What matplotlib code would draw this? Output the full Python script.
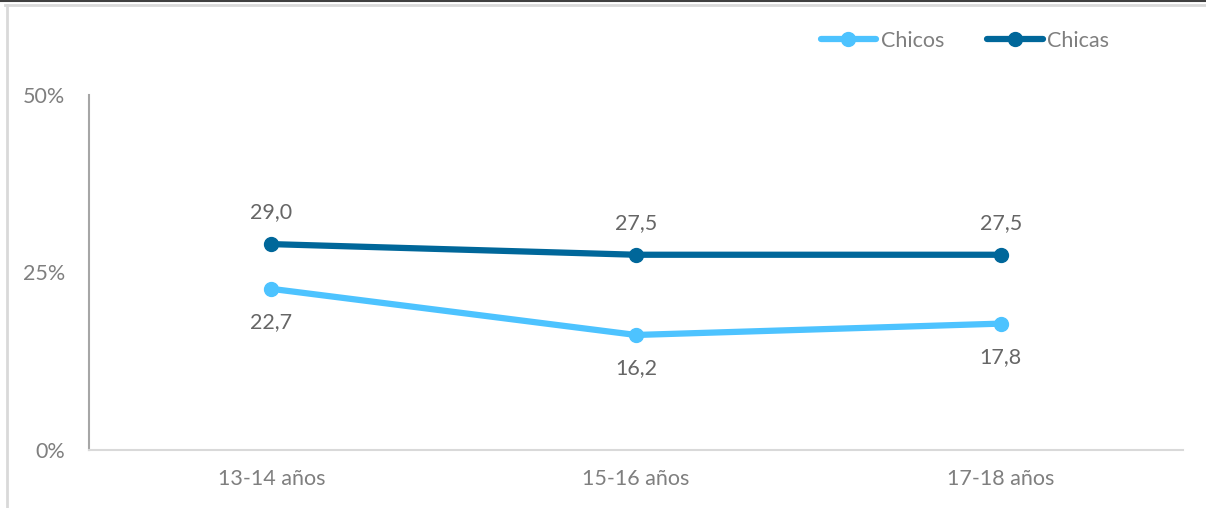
import matplotlib
matplotlib.use("Agg")
import matplotlib.pyplot as plt
from matplotlib.lines import Line2D
from matplotlib.ticker import FuncFormatter

categories = ["13-14 años", "15-16 años", "17-18 años"]
chicos = [22.7, 16.2, 17.8]
chicas = [29.0, 27.5, 27.5]
yticks = [0, 25, 50]

c_chicos = "#4DC3FF"
c_chicas = "#00679A"
grey = "#7F7F7F"
label_grey = "#666666"

plt.rcParams['font.family'] = ['Lato', 'DejaVu Sans']

fig = plt.figure(figsize=(12.06, 5.08), dpi=100)
W, H = 1206, 508
ax = fig.add_axes([89 / W, 1 - 450 / H, (1183 - 89) / W, (450 - 95) / H])

x = list(range(len(categories)))
ax.plot(x, chicos, color=c_chicos, lw=4.5, marker="o", ms=10, solid_capstyle="round", zorder=3)
ax.plot(x, chicas, color=c_chicas, lw=4.5, marker="o", ms=10, solid_capstyle="round", zorder=3)

fs = 15.5
for xi, v in zip(x, chicas):
    ax.annotate(f"{v:.1f}".replace(".", ","), (xi, v), xytext=(0, 23), textcoords="offset points",
                ha="center", va="center", fontsize=fs, color=label_grey)
for xi, v in zip(x, chicos):
    ax.annotate(f"{v:.1f}".replace(".", ","), (xi, v), xytext=(0, -24), textcoords="offset points",
                ha="center", va="center", fontsize=fs, color=label_grey)

ax.set_xlim(-0.5, 2.5)
ax.set_ylim(0, 50)
ax.set_yticks(yticks)
ax.yaxis.set_major_formatter(FuncFormatter(lambda v, p: f"{int(v)}%"))
ax.set_xticks(x)
ax.set_xticklabels(categories)
ax.tick_params(axis="both", length=0, labelsize=fs, labelcolor=grey)
ax.tick_params(axis="y", pad=17)
ax.tick_params(axis="x", pad=14)
for s in ["top", "right"]:
    ax.spines[s].set_visible(False)
ax.spines["left"].set_color("#A6A6A6")
ax.spines["left"].set_linewidth(1.5)
ax.spines["bottom"].set_color("#D9D9D9")
ax.spines["bottom"].set_linewidth(1.5)

handles = [Line2D([], [], color=c_chicos, lw=4.5, marker="o", ms=10, solid_capstyle="round"),
           Line2D([], [], color=c_chicas, lw=4.5, marker="o", ms=10, solid_capstyle="round")]
fig.legend(handles, ["Chicos", "Chicas"], loc="center", bbox_to_anchor=(965 / W, 1 - 41 / H),
           ncol=2, frameon=False, fontsize=fs, labelcolor=grey, handlelength=2.6,
           handletextpad=0.2, columnspacing=2.0)

# outer frame lines
fig.add_artist(Line2D([0, 1], [1 - 0.5 / H, 1 - 0.5 / H], color="#404040", lw=1.5, transform=fig.transFigure))
fig.add_artist(Line2D([5 / W, 1], [1 - 5 / H, 1 - 5 / H], color="#D9D9D9", lw=2, transform=fig.transFigure))
fig.add_artist(Line2D([6.5 / W, 6.5 / W], [0, 1 - 5 / H], color="#D9D9D9", lw=2, transform=fig.transFigure))

fig.savefig("out.png", dpi=100)
